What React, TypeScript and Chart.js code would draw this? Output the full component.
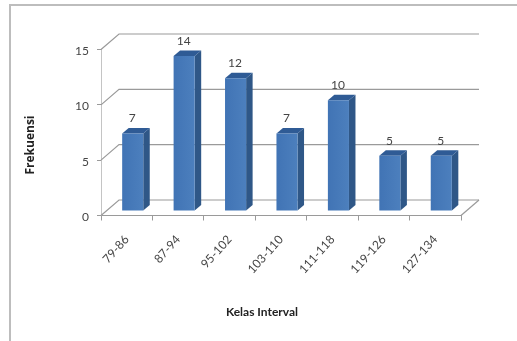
import React, { useEffect, useRef } from "react";
import { Chart, registerables } from "chart.js";

Chart.register(...registerables);

const kelasInterval = ["79-86", "87-94", "95-102", "103-110", "111-118", "119-126", "127-134"];
const frekuensi = [7, 14, 12, 7, 10, 5, 5];
const yTicks = [0, 5, 10, 15];
const xTitle = "Kelas Interval";
const yTitle = "Frekuensi";

const GRID = "#9a9a9a";
const FRONT_DARK = "#4174b5";
const FRONT_LIGHT = "#4c7fbd";
const SIDE = "#2f5787";
const TOP = "#2f5b95";
const TEXT = "#454545";
const WALL_DX = 18;
const WALL_DY = -15.5;
const BAR_DX = 6;
const BAR_DY = -4.5;
const BAR_DEPTH_X = 6.5;
const BAR_DEPTH_Y = -5.5;

// Draws the perspective walls and floor, then the side and top faces of each column.
const depthPlugin = {
  id: "depth",
  beforeDatasetsDraw(chart: any) {
    const { ctx, chartArea: a, scales } = chart;
    const y = scales.y;
    ctx.save();
    ctx.strokeStyle = GRID;
    ctx.lineWidth = 1.2;
    for (const t of yTicks) {
      const py = y.getPixelForValue(t);
      ctx.beginPath();
      ctx.moveTo(a.left, py);
      ctx.lineTo(a.left + WALL_DX, py + WALL_DY);
      ctx.lineTo(a.right + WALL_DX, py + WALL_DY);
      ctx.stroke();
    }
    const base = y.getPixelForValue(0);
    ctx.beginPath();
    ctx.moveTo(a.right, base);
    ctx.lineTo(a.right + WALL_DX, base + WALL_DY);
    ctx.stroke();

    const meta = chart.getDatasetMeta(0);
    for (const bar of meta.data) {
      const p = bar.getProps(["x", "y", "base", "width"], true);
      const l = p.x - p.width / 2 + BAR_DX;
      const r = p.x + p.width / 2 + BAR_DX;
      const t = p.y + BAR_DY;
      const b = p.base + BAR_DY;
      ctx.fillStyle = SIDE;
      ctx.beginPath();
      ctx.moveTo(r, t);
      ctx.lineTo(r + BAR_DEPTH_X, t + BAR_DEPTH_Y);
      ctx.lineTo(r + BAR_DEPTH_X, b + BAR_DEPTH_Y);
      ctx.lineTo(r, b);
      ctx.closePath();
      ctx.fill();
      ctx.fillStyle = TOP;
      ctx.beginPath();
      ctx.moveTo(l, t);
      ctx.lineTo(l + BAR_DEPTH_X, t + BAR_DEPTH_Y);
      ctx.lineTo(r + BAR_DEPTH_X, t + BAR_DEPTH_Y);
      ctx.lineTo(r, t);
      ctx.closePath();
      ctx.fill();
    }
    ctx.restore();
  },
  // The front faces stand slightly inside the floor.
  beforeDatasetDraw(chart: any) {
    chart.ctx.save();
    chart.ctx.translate(BAR_DX, BAR_DY);
  },
  afterDatasetDraw(chart: any) {
    chart.ctx.restore();
  },
  afterDatasetsDraw(chart: any) {
    const { ctx } = chart;
    const meta = chart.getDatasetMeta(0);
    ctx.save();
    ctx.fillStyle = TEXT;
    ctx.font = "12px Lato";
    ctx.textAlign = "center";
    ctx.textBaseline = "middle";
    meta.data.forEach((bar: any, i: number) => {
      const p = bar.getProps(["x", "y"], true);
      ctx.fillText(String(frekuensi[i]), p.x + BAR_DX - 0.5, p.y + BAR_DY - 15);
    });
    ctx.fillStyle = "#222222";
    ctx.font = "bold 12px Lato";
    ctx.fillText(xTitle, 262, 312);
    ctx.translate(31, 145);
    ctx.rotate(-Math.PI / 2);
    ctx.font = "bold 12px 'Open Sans'";
    ctx.fillText(yTitle, 0, 0);
    ctx.restore();
  },
};

export default function App() {
  const canvasRef = useRef<HTMLCanvasElement>(null);

  useEffect(() => {
    document.body.style.margin = "0";
    const chart = new Chart(canvasRef.current!, {
      type: "bar",
      data: {
        labels: kelasInterval,
        datasets: [
          {
            data: frekuensi,
            backgroundColor: (c: any) => {
              const xScale = c.chart.scales?.x;
              if (!xScale || !Number.isFinite(xScale.getPixelForValue(c.dataIndex))) return FRONT_LIGHT;
              const cx = xScale.getPixelForValue(c.dataIndex);
              const g = c.chart.ctx.createLinearGradient(cx - 10, 0, cx + 10, 0);
              g.addColorStop(0, FRONT_DARK);
              g.addColorStop(1, FRONT_LIGHT);
              return g;
            },
            borderWidth: 0,
            barPercentage: 1,
            categoryPercentage: 0.41,
            clip: false,
          },
        ],
      },
      options: {
        responsive: false,
        animation: false,
        devicePixelRatio: 1,
        layout: { padding: { top: 49.5, right: 56, left: 0, bottom: 0 } },
        plugins: { legend: { display: false }, tooltip: { enabled: false } },
        scales: {
          x: {
            afterFit: (s: any) => {
              s.height = 125.5;
            },
            grid: {
              offset: true,
              drawOnChartArea: false,
              drawTicks: true,
              tickLength: 5,
              color: GRID,
            },
            border: { color: GRID },
            ticks: {
              maxRotation: 48,
              minRotation: 48,
              autoSkip: false,
              padding: 12,
              color: TEXT,
              font: { family: "Lato", size: 12 },
            },
          },
          y: {
            min: 0,
            max: 15,
            afterFit: (s: any) => {
              s.width = 101;
            },
            afterBuildTicks: (s: any) => {
              s.ticks = yTicks.map((value) => ({ value }));
            },
            grid: { drawOnChartArea: false, tickLength: 4, color: GRID },
            border: { color: "#c4c4c4" },
            ticks: {
              padding: 8,
              labelOffset: 1.5,
              color: TEXT,
              font: { family: "Lato", size: 12 },
            },
          },
        },
      },
      plugins: [depthPlugin],
    } as any);
    return () => chart.destroy();
  }, []);

  return (
    <div style={{ position: "relative", width: 517, height: 341, background: "#fff", overflow: "hidden" }}>
      <div
        style={{
          position: "absolute",
          left: 9,
          top: 4,
          width: 508,
          height: 337,
          borderLeft: "2px solid #bdbdbd",
          borderTop: "2px solid #bdbdbd",
        }}
      />
      <canvas ref={canvasRef} width={517} height={341} style={{ position: "absolute", left: 0, top: 0, display: "block" }} />
    </div>
  );
}
